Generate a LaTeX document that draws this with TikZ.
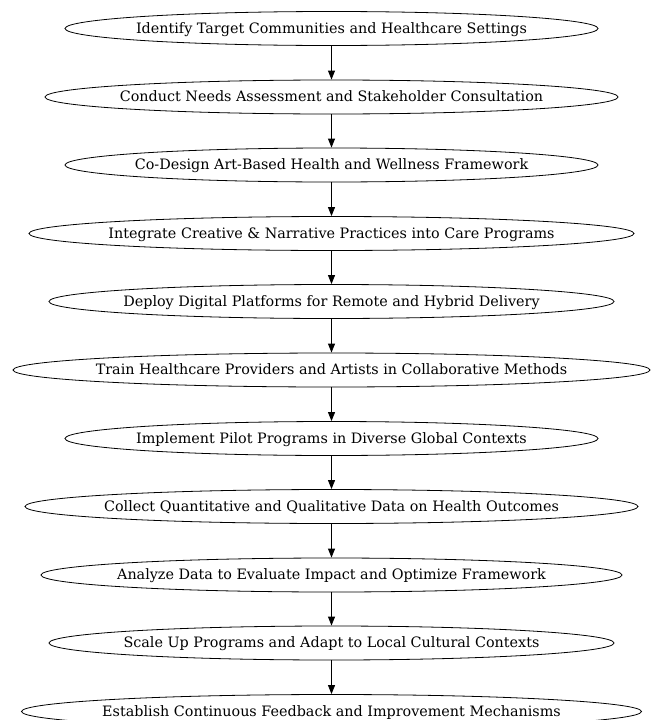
\documentclass[tikz,border=0pt]{standalone}
\usepackage{fontspec}
\setmainfont{DejaVu Serif}
\usetikzlibrary{shapes.geometric,arrows.meta}
\newcommand{\zerow}[1]{\makebox[0pt]{\raisebox{-4.8pt}[0pt][0pt]{#1}}}
\begin{document}
\begin{tikzpicture}[x=1pt,y=1pt,
  stepnode/.style={ellipse,draw=black,line width=0.8pt,inner sep=0pt,minimum height=34pt,font=\fontsize{14.35}{16}\selectfont},
  link/.style={draw=black,line width=0.8pt,-{Triangle[length=9pt,width=7pt]}}]
\useasboundingbox (0,0) rectangle (652,-720);
\node[stepnode,minimum width=533pt] (n1) at (331.5,-28.5) {\zerow{Identify Target Communities and Healthcare Settings}};
\node[stepnode,minimum width=573pt] (n2) at (331.5,-97) {\zerow{Conduct Needs Assessment and Stakeholder Consultation}};
\node[stepnode,minimum width=533pt] (n3) at (331.5,-165) {\zerow{Co-Design Art-Based Health and Wellness Framework}};
\node[stepnode,minimum width=605pt] (n4) at (331.5,-233.5) {\zerow{Integrate Creative \& Narrative Practices into Care Programs}};
\node[stepnode,minimum width=565pt] (n5) at (331.5,-301.5) {\zerow{Deploy Digital Platforms for Remote and Hybrid Delivery}};
\node[stepnode,minimum width=637pt] (n6) at (331.5,-370) {\zerow{Train Healthcare Providers and Artists in Collaborative Methods}};
\node[stepnode,minimum width=533pt] (n7) at (331.5,-438.5) {\zerow{Implement Pilot Programs in Diverse Global Contexts}};
\node[stepnode,minimum width=613pt] (n8) at (331.5,-506.5) {\zerow{Collect Quantitative and Qualitative Data on Health Outcomes}};
\node[stepnode,minimum width=581pt] (n9) at (331.5,-575) {\zerow{Analyze Data to Evaluate Impact and Optimize Framework}};
\node[stepnode,minimum width=565pt] (n10) at (331.5,-643) {\zerow{Scale Up Programs and Adapt to Local Cultural Contexts}};
\node[stepnode,minimum width=620pt] (n11) at (331.5,-711.5) {\zerow{Establish Continuous Feedback and Improvement Mechanisms}};
\foreach \a/\b in {n1/n2,n2/n3,n3/n4,n4/n5,n5/n6,n6/n7,n7/n8,n8/n9,n9/n10,n10/n11}
  \draw[link] (\a) -- (\b);
\end{tikzpicture}
\end{document}
